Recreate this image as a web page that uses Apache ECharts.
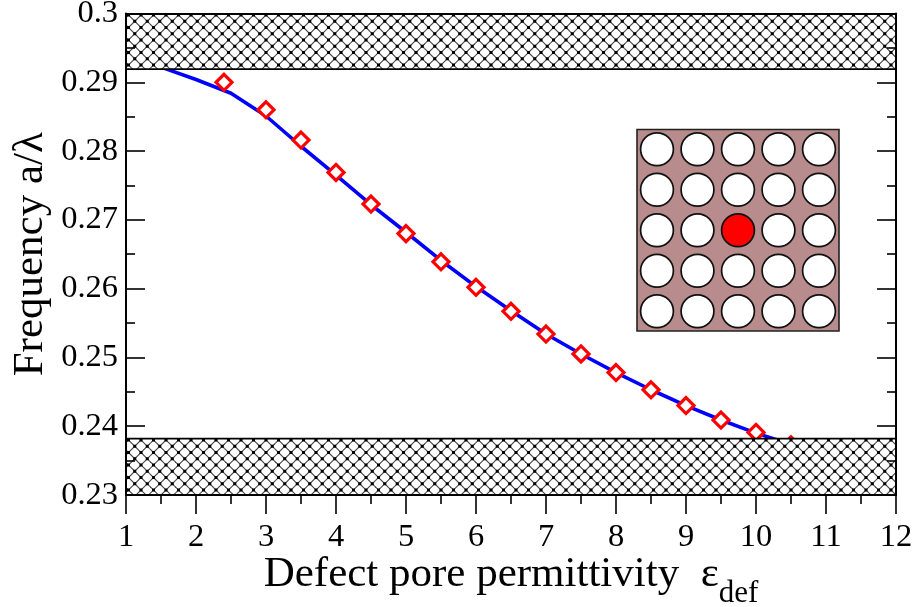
<!DOCTYPE html>
<html>
<head>
<meta charset="utf-8">
<style>html,body{margin:0;padding:0;background:#fff}#c{width:915px;height:607px}</style>
<script src="https://cdn.jsdelivr.net/npm/echarts@6/dist/echarts.min.js"></script>
</head>
<body>
<div id="c"></div>
<script>
const lineX = [1.5, 2, 2.5, 3, 3.5, 4, 4.5, 5, 5.5, 6, 6.5, 7, 7.5, 8, 8.5, 9, 9.5, 10, 10.5];
const lineY = [0.2922, 0.2904, 0.2884, 0.2851, 0.2807, 0.2765, 0.2722, 0.2682, 0.2641, 0.2603, 0.2568, 0.2534, 0.2505, 0.2478, 0.2453, 0.2430, 0.2409, 0.2390, 0.2374];
const markerX = [2.4, 3, 3.5, 4, 4.5, 5, 5.5, 6, 6.5, 7, 7.5, 8, 8.5, 9, 9.5, 10, 10.5];
const markerY = [0.2900, 0.2860, 0.2816, 0.2769, 0.2723, 0.2680, 0.2639, 0.2602, 0.2567, 0.2534, 0.2505, 0.2478, 0.2453, 0.2430, 0.2409, 0.2391, 0.2373];
const gapBands = [[0.2919, 0.3], [0.23, 0.2382]];
const xTitle = 'Defect pore permittivity';
const yTitle = 'Frequency a/λ';

function hatch() {
  const p = 12.5, size = 25, ox = 3.5, oy = 2.5;
  const cv = document.createElement('canvas');
  cv.width = size; cv.height = size;
  const g = cv.getContext('2d');
  g.fillStyle = '#fff'; g.fillRect(0, 0, size, size);
  g.translate(ox, oy);
  g.strokeStyle = '#444'; g.lineWidth = 1.15;
  for (let i = -6; i <= 6; i++) {
    g.beginPath(); g.moveTo(i * p - size, -size); g.lineTo(i * p + 2 * size, 2 * size); g.stroke();
    g.beginPath(); g.moveTo(i * p - size, 2 * size); g.lineTo(i * p + 2 * size, -size); g.stroke();
  }
  g.fillStyle = '#000';
  for (let i = -4; i <= 6; i++) for (let j = -4; j <= 6; j++) {
    if ((i + j) % 2) continue;
    g.fillRect(i * p / 2 - 1.5, j * p / 2 - 1.5, 3, 3);
  }
  return cv;
}
const pattern = { image: hatch(), repeat: 'repeat' };

const inset = [{ type: 'rect', shape: { x: 637, y: 129.5, width: 202, height: 201.5 }, style: { fill: '#b88c8c', stroke: '#222', lineWidth: 1.6 }, z: 4 }];
const cols = [657, 697.5, 738, 778.5, 819];
const rows = [149.2, 189.7, 230.2, 270.7, 311.2];
rows.forEach((cy, r) => cols.forEach((cx, c) => {
  inset.push({ type: 'circle', shape: { cx, cy, r: 16.4 }, style: { fill: r === 2 && c === 2 ? '#ff0000' : '#fff', stroke: '#111', lineWidth: 1.7 }, z: 5 });
}));

const font = '"Liberation Serif","Times New Roman",serif';
const chart = echarts.init(document.getElementById('c'), null, { renderer: 'canvas' });
const axisLine = { show: true, lineStyle: { color: '#000', width: 2 } };
chart.setOption({
  animation: false,
  backgroundColor: '#fff',
  grid: { left: 126, top: 13.5, width: 770, height: 481.5, show: false, containLabel: false, outerBoundsMode: 'none' },
  xAxis: [{
    type: 'value', min: 1, max: 12, interval: 1, position: 'bottom', z: 8,
    axisLine, splitLine: { show: false },
    axisTick: { show: true, length: 19, inside: false, lineStyle: { color: '#000', width: 1.6 } },
    minorTick: { show: true, splitNumber: 2, length: 9, lineStyle: { color: '#000', width: 1.6 } },
    axisLabel: { fontFamily: font, fontSize: 32.5, color: '#000', margin: 26, formatter: v => String(v), showMinLabel: true, showMaxLabel: true },
    name: '{a|' + xTitle + '  }{e|ε}{b|def}', nameLocation: 'middle', nameGap: 46, nameMoveOverlap: false,
    nameTextStyle: { rich: {
      a: { fontFamily: font, fontSize: 43, color: '#000', height: 50 },
      e: { fontFamily: font, fontSize: 43, color: '#000', height: 50 },
      b: { fontFamily: font, fontSize: 31, color: '#000', height: 30, padding: [38, 0, 0, 0] }
    } }
  }, {
    type: 'value', min: 1, max: 12, interval: 1, position: 'top', z: 8,
    axisLine, axisTick: { show: false }, axisLabel: { show: false }, splitLine: { show: false }
  }],
  yAxis: [{
    type: 'value', min: 0.23, max: 0.3, interval: 0.01, position: 'left', z: 8,
    axisLine, splitLine: { show: false },
    axisTick: { show: true, inside: true, length: 19, lineStyle: { color: '#000', width: 1.6 } },
    minorTick: { show: true, splitNumber: 2, length: 9, lineStyle: { color: '#000', width: 1.6 } },
    axisLabel: { fontFamily: font, fontSize: 32.5, color: '#000', margin: 8, formatter: v => parseFloat(v.toFixed(2)).toString(), showMinLabel: true, showMaxLabel: true },
    name: yTitle, nameLocation: 'middle', nameGap: 74, nameRotate: 90, nameMoveOverlap: false,
    nameTextStyle: { fontFamily: font, fontSize: 43, color: '#000' }
  }, {
    type: 'value', min: 0.23, max: 0.3, interval: 0.01, position: 'right', z: 8,
    axisLine, splitLine: { show: false },
    axisTick: { show: true, inside: true, length: 19, lineStyle: { color: '#000', width: 1.6 } },
    minorTick: { show: true, splitNumber: 2, length: 9, lineStyle: { color: '#000', width: 1.6 } },
    axisLabel: { show: false }
  }],
  series: [{
    type: 'line', z: 2, symbol: 'none', smooth: false, clip: true,
    lineStyle: { color: '#0000ff', width: 3.6 },
    data: lineX.map((x, i) => [x, lineY[i]])
  }, {
    type: 'line', z: 3, clip: true, symbol: 'diamond', symbolSize: 16,
    lineStyle: { opacity: 0 },
    itemStyle: { color: '#fff', borderColor: '#ff0000', borderWidth: 3.2, opacity: 1 },
    data: markerX.map((x, i) => [x, markerY[i]])
  }, {
    type: 'custom', z: 6, clip: true, silent: true,
    encode: { y: [0, 1] },
    data: gapBands,
    renderItem(params, api) {
      const lo = api.value(0), hi = api.value(1);
      const a = api.coord([1, hi]), b = api.coord([12, lo]);
      return { type: 'rect', shape: { x: a[0], y: a[1], width: b[0] - a[0], height: b[1] - a[1] },
        style: { fill: pattern, stroke: '#000', lineWidth: 1.8 } };
    }
  }],
  graphic: { elements: inset }
});
</script>
</body>
</html>
